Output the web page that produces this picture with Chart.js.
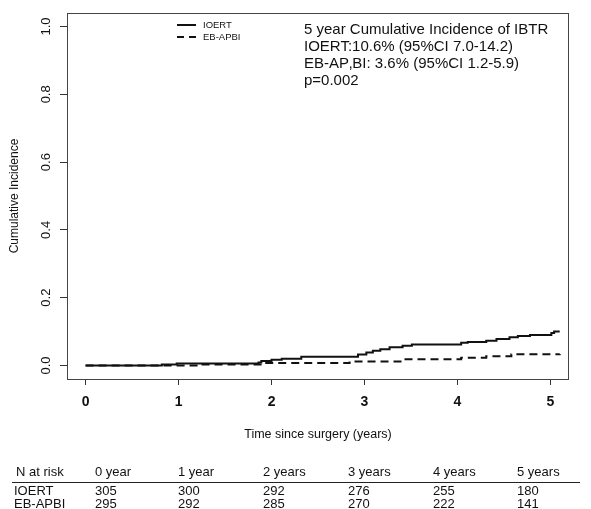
<!DOCTYPE html>
<html>
<head>
<meta charset="utf-8">
<script src="https://cdn.jsdelivr.net/npm/chart.js@4.4.1/dist/chart.umd.min.js"></script>
<style>
  html, body { margin: 0; padding: 0; background: #fff; }
  #wrap { width: 591px; height: 509px; position: relative; }
</style>
</head>
<body>
<div id="wrap"><canvas id="cif"></canvas></div>
<script>
// step points (time in years, cumulative incidence)
const ioertTimes = [0, 0.82, 0.98, 1.86, 1.89, 2.0, 2.11, 2.32, 2.93, 3.02, 3.09, 3.17, 3.27, 3.41, 3.51, 4.04, 4.11, 4.31, 4.42, 4.56, 4.65, 4.78, 5.01, 5.04, 5.1];
const ioertValues = [0, 0.003, 0.006, 0.009, 0.013, 0.017, 0.02, 0.026, 0.032, 0.038, 0.043, 0.048, 0.054, 0.058, 0.062, 0.067, 0.069, 0.073, 0.078, 0.083, 0.087, 0.09, 0.096, 0.1, 0.1];
const ebTimes = [0, 1.23, 1.92, 2.84, 3.41, 4.04, 4.31, 4.58, 5.1];
const ebValues = [0, 0.003, 0.007, 0.012, 0.018, 0.023, 0.027, 0.033, 0.034];

const xTicks = [0, 1, 2, 3, 4, 5];
const yTicks = [0, 0.2, 0.4, 0.6, 0.8, 1.0];

const seriesNames = ['IOERT', 'EB-APBI'];
const infoLines = [
  '5 year Cumulative Incidence of IBTR',
  'IOERT:10.6% (95%CI 7.0-14.2)',
  'EB-AP\u201aBI: 3.6% (95%CI 1.2-5.9)',
  'p=0.002'
];

const riskHeaders = ['0 year', '1 year', '2 years', '3 years', '4 years', '5 years'];
const ioertAtRisk = [305, 300, 292, 276, 255, 180];
const ebAtRisk = [295, 292, 285, 270, 222, 141];

const FONT = "'Liberation Sans', Arial, sans-serif";
const INK = '#111';

const toPoints = (xs, ys) => xs.map((x, i) => ({ x, y: ys[i] }));

const overlay = {
  id: 'overlay',
  afterDraw(chart) {
    const { ctx, chartArea: a, scales } = chart;
    ctx.save();

    // plot box
    ctx.strokeStyle = '#444';
    ctx.lineWidth = 1;
    ctx.strokeRect(a.left + 0.5, a.top + 0.5, a.right - a.left - 1, a.bottom - a.top);

    ctx.fillStyle = INK;

    // rotated y tick labels, R style
    ctx.font = '13px ' + FONT;
    ctx.textAlign = 'center';
    ctx.textBaseline = 'middle';
    yTicks.forEach((v) => {
      const y = scales.y.getPixelForValue(v);
      ctx.save();
      ctx.translate(46, y);
      ctx.rotate(-Math.PI / 2);
      ctx.fillText(v.toFixed(1), 0, 0);
      ctx.restore();
    });

    // y title
    ctx.save();
    ctx.translate(15, (a.top + a.bottom) / 2);
    ctx.rotate(-Math.PI / 2);
    ctx.font = '12px ' + FONT;
    ctx.fillText('Cumulative Incidence', 0, 0);
    ctx.restore();

    // legend
    ctx.strokeStyle = INK;
    ctx.lineWidth = 2;
    ctx.beginPath();
    ctx.moveTo(177, 25);
    ctx.lineTo(196, 25);
    ctx.stroke();
    ctx.setLineDash([7, 5]);
    ctx.beginPath();
    ctx.moveTo(177, 37);
    ctx.lineTo(196, 37);
    ctx.stroke();
    ctx.setLineDash([]);
    ctx.font = '9.5px ' + FONT;
    ctx.textAlign = 'left';
    ctx.fillText(seriesNames[0], 203, 25);
    ctx.fillText(seriesNames[1], 203, 37);

    // info text
    ctx.font = '15px ' + FONT;
    ctx.textBaseline = 'alphabetic';
    infoLines.forEach((t, i) => ctx.fillText(t, 304, 34 + i * 17));

    // x title
    ctx.font = '12.5px ' + FONT;
    ctx.textAlign = 'center';
    ctx.textBaseline = 'middle';
    ctx.fillText('Time since surgery (years)', (a.left + a.right) / 2, 435);

    // number at risk table
    const colX = [95, 178, 263, 348, 433, 517];
    ctx.font = '13px ' + FONT;
    ctx.textAlign = 'left';
    ctx.fillText('N at risk', 16, 472);
    ctx.fillText(seriesNames[0], 14, 491);
    ctx.fillText(seriesNames[1], 14, 504);
    riskHeaders.forEach((h, i) => {
      ctx.fillText(h, colX[i], 472);
      ctx.fillText(String(ioertAtRisk[i]), colX[i], 491);
      ctx.fillText(String(ebAtRisk[i]), colX[i], 504);
    });
    ctx.strokeStyle = '#222';
    ctx.lineWidth = 1;
    ctx.beginPath();
    ctx.moveTo(12, 482.5);
    ctx.lineTo(580, 482.5);
    ctx.stroke();

    ctx.restore();
  }
};

new Chart(document.getElementById('cif'), {
  type: 'line',
  data: {
    datasets: [
      {
        label: seriesNames[0],
        data: toPoints(ioertTimes, ioertValues),
        borderColor: INK,
        borderWidth: 2,
        stepped: 'before',
        pointRadius: 0,
        fill: false
      },
      {
        label: seriesNames[1],
        data: toPoints(ebTimes, ebValues),
        borderColor: INK,
        borderWidth: 2,
        borderDash: [8, 5],
        stepped: 'before',
        pointRadius: 0,
        fill: false
      }
    ]
  },
  options: {
    responsive: true,
    maintainAspectRatio: false,
    animation: false,
    layout: { padding: { top: 13, right: 22, left: 0, bottom: 0 } },
    plugins: {
      legend: { display: false },
      tooltip: { enabled: false }
    },
    scales: {
      x: {
        type: 'linear',
        min: -0.2,
        max: 5.2,
        afterBuildTicks: (s) => { s.ticks = xTicks.map((v) => ({ value: v })); },
        afterFit: (s) => { s.height = 130; },
        border: { display: false },
        grid: { drawOnChartArea: false, tickLength: 6, color: '#333' },
        ticks: {
          color: INK,
          padding: 9,
          maxRotation: 0,
          font: { family: FONT, size: 14, weight: 'bold' },
          callback: (v) => String(v)
        }
      },
      y: {
        type: 'linear',
        min: -0.04,
        max: 1.04,
        afterBuildTicks: (s) => { s.ticks = yTicks.map((v) => ({ value: v })); },
        afterFit: (s) => { s.width = 67; },
        border: { display: false },
        grid: { drawOnChartArea: false, tickLength: 7, color: '#333' },
        ticks: { display: false }
      }
    }
  },
  plugins: [overlay]
});
</script>
</body>
</html>
